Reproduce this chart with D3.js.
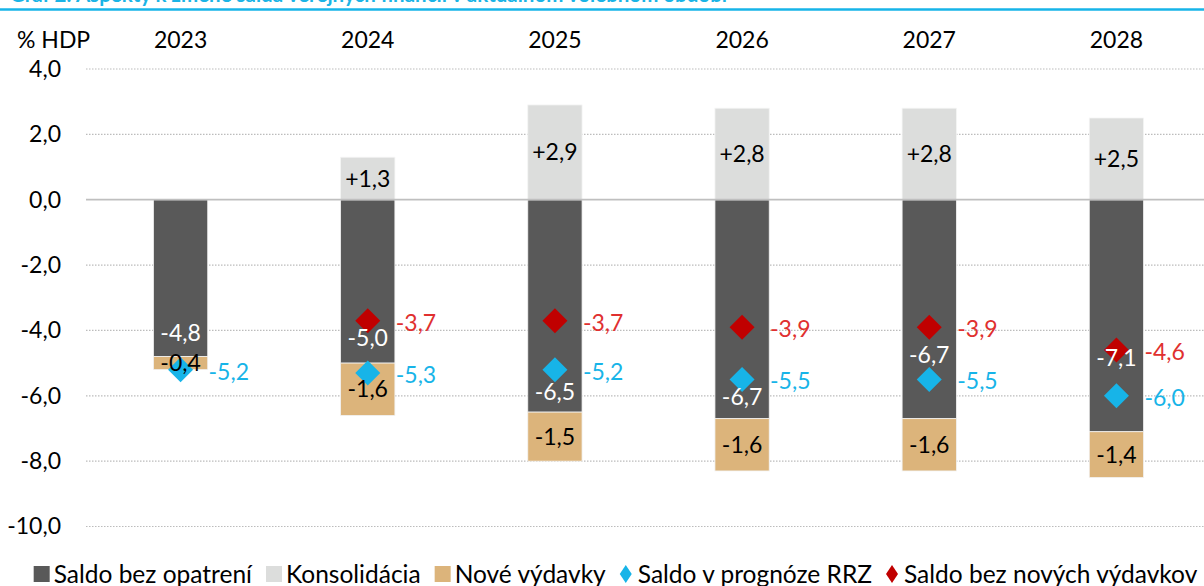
<!DOCTYPE html>
<html>
<head>
<meta charset="utf-8">
<script src="https://cdn.jsdelivr.net/npm/d3@7"></script>
<style>
  body { margin: 0; background: #fff; }
  svg { display: block; font-family: Lato, "Open Sans", sans-serif; }
</style>
</head>
<body>
<svg id="chart" width="1204" height="586"></svg>
<script>
// chart data (% HDP)
var years = ["2023", "2024", "2025", "2026", "2027", "2028"];
var saldoBezOpatreni = [-4.8, -5.0, -6.5, -6.7, -6.7, -7.1];
var konsolidacia = [null, 1.3, 2.9, 2.8, 2.8, 2.5];
var noveVydavky = [-0.4, -1.6, -1.5, -1.6, -1.6, -1.4];
var saldoRRZ = [-5.2, -5.3, -5.2, -5.5, -5.5, -6.0];
var saldoBezNovych = [null, -3.7, -3.7, -3.9, -3.9, -4.6];
var yTicks = [4, 2, 0, -2, -4, -6, -8, -10];
var legendLabels = ["Saldo bez opatrení", "Konsolidácia", "Nové výdavky", "Saldo v prognóze RRZ", "Saldo bez nových výdavkov"];
var titleText = "Graf 2: Aspekty k zmene salda verejných financií v aktuálnom volebnom období";

// colors
var cDark = "#595959", cLight = "#dcdddc", cTan = "#dcb47b",
    cBlue = "#17b4e8", cRed = "#c00000", cRedText = "#e0302f";

var fs = 23; // label font size

// vertical shift (px) of the dark bar labels from the bar end, as placed in the original
var darkLabelShift = [-24, -25, -20, -22, -64, -74];

var svg = d3.select("#chart");
var fmt = function(v) { return v.toFixed(1).replace(".", ","); };

var x = d3.scaleBand()
  .domain(years)
  .range([87, 1210])
  .paddingInner(0.71)
  .paddingOuter(0.355);

var y = d3.scaleLinear()
  .domain([-10, 4])
  .range([526.5, 69]);

var cx = d => x(d) + x.bandwidth() / 2;

// title (cut off at top) + blue rule
svg.append("text")
  .attr("x", 10).attr("y", 2)
  .attr("fill", "#1ab4e6")
  .attr("font-weight", "bold")
  .attr("font-size", 20)
  .attr("textLength", 717)
  .attr("lengthAdjust", "spacingAndGlyphs")
  .text(titleText);
svg.append("line")
  .attr("x1", 0).attr("x2", 1204)
  .attr("y1", 9.5).attr("y2", 9.5)
  .attr("stroke", "#17b4e8")
  .attr("stroke-width", 2.5);

// gridlines
svg.append("g").selectAll("line")
  .data(yTicks.filter(d => d !== 0))
  .enter().append("line")
  .attr("x1", 86).attr("x2", 1204)
  .attr("y1", d => y(d)).attr("y2", d => y(d))
  .attr("stroke", "#bcbcbc")
  .attr("stroke-width", 1.2)
  .attr("stroke-dasharray", "1.5,1.5");

// y axis labels
var yAxis = d3.axisLeft(y)
  .tickValues(yTicks)
  .tickFormat(fmt)
  .tickSize(0)
  .tickPadding(0);
var gy = svg.append("g")
  .attr("transform", "translate(61,0)")
  .call(yAxis);
gy.select(".domain").remove();
gy.selectAll("text")
  .attr("font-size", fs)
  .attr("font-family", "Lato, sans-serif")
  .attr("fill", "#000");

svg.append("text")
  .attr("x", 17).attr("y", 40)
  .attr("dy", "0.35em")
  .attr("font-size", fs)
  .text("% HDP");

// year labels on top
svg.append("g").selectAll("text")
  .data(years)
  .enter().append("text")
  .attr("x", cx)
  .attr("y", 40)
  .attr("dy", "0.35em")
  .attr("text-anchor", "middle")
  .attr("font-size", fs)
  .text(d => d);

// bars
var bars = svg.append("g");
// dark: saldo bez opatrení
bars.selectAll(".dark")
  .data(years)
  .enter().append("rect")
  .attr("class", "dark")
  .attr("x", d => x(d))
  .attr("width", x.bandwidth())
  .attr("y", y(0))
  .attr("height", (d, i) => y(saldoBezOpatreni[i]) - y(0))
  .attr("fill", cDark)
  .attr("stroke", "#f2f2f2").attr("stroke-width", 0.8);
// tan: nové výdavky, stacked below
bars.selectAll(".tan")
  .data(years)
  .enter().append("rect")
  .attr("class", "tan")
  .attr("x", d => x(d))
  .attr("width", x.bandwidth())
  .attr("y", (d, i) => y(saldoBezOpatreni[i]))
  .attr("height", (d, i) => y(saldoBezOpatreni[i] + noveVydavky[i]) - y(saldoBezOpatreni[i]))
  .attr("fill", cTan)
  .attr("stroke", "#f2f2f2").attr("stroke-width", 0.8);
// light: konsolidácia
bars.selectAll(".light")
  .data(years.filter((d, i) => konsolidacia[i] != null))
  .enter().append("rect")
  .attr("class", "light")
  .attr("x", d => x(d))
  .attr("width", x.bandwidth())
  .attr("y", d => y(konsolidacia[years.indexOf(d)]))
  .attr("height", d => y(0) - y(konsolidacia[years.indexOf(d)]))
  .attr("fill", cLight)
  .attr("stroke", "#f4f4f4").attr("stroke-width", 0.8);

// zero line
svg.append("line")
  .attr("x1", 86).attr("x2", 1204)
  .attr("y1", y(0)).attr("y2", y(0))
  .attr("stroke", "#bfbfbf")
  .attr("stroke-width", 1.8);

// diamonds + their labels
var diamond = "M0,-12.5L12.5,0L0,12.5L-12.5,0Z";
var pointLabels = svg.append("g").attr("font-size", fs);
function drawPoints(values, fill, textFill) {
  var idx = d3.range(years.length).filter(i => values[i] != null);
  svg.append("g").selectAll("path")
    .data(idx)
    .enter().append("path")
    .attr("d", diamond)
    .attr("transform", i => "translate(" + cx(years[i]) + "," + y(values[i]) + ")")
    .attr("fill", fill);
  pointLabels.selectAll(null)
    .data(idx)
    .enter().append("text")
    .attr("x", i => cx(years[i]) + 28)
    .attr("y", i => y(values[i]) + 2)
    .attr("dy", "0.35em")
    .attr("fill", textFill)
    .text(i => fmt(values[i]));
}
drawPoints(saldoRRZ, cBlue, cBlue);
drawPoints(saldoBezNovych, cRed, cRedText);

// bar labels, drawn over the diamonds like in the original
var labels = svg.append("g").attr("font-size", fs).attr("text-anchor", "middle");
labels.selectAll(".lightLab")
  .data(years.filter((d, i) => konsolidacia[i] != null))
  .enter().append("text")
  .attr("x", cx)
  .attr("y", d => (y(0) + y(konsolidacia[years.indexOf(d)])) / 2)
  .attr("dy", "0.35em")
  .attr("fill", "#000")
  .text(d => "+" + fmt(konsolidacia[years.indexOf(d)]));

labels.selectAll(".tanLab")
  .data(years)
  .enter().append("text")
  .attr("x", cx)
  .attr("y", (d, i) => (y(saldoBezOpatreni[i]) + y(saldoBezOpatreni[i] + noveVydavky[i])) / 2)
  .attr("dy", "0.35em")
  .attr("fill", "#000")
  .text((d, i) => fmt(noveVydavky[i]));

labels.selectAll(".darkLab")
  .data(years)
  .enter().append("text")
  .attr("x", cx)
  .attr("y", (d, i) => y(saldoBezOpatreni[i]) + darkLabelShift[i])
  .attr("dy", "0.35em")
  .attr("fill", "#fff")
  .text((d, i) => fmt(saldoBezOpatreni[i]));

// legend
var legendColors = [cDark, cLight, cTan, cBlue, cRed];
var legendShapes = ["sq", "sq", "sq", "dia", "dia"];
var legend = svg.append("g").attr("class", "legend");
var lx = 0;
legendLabels.forEach(function(lab, i) {
  var item = legend.append("g").attr("transform", "translate(" + lx + ",0)");
  var tx;
  if (legendShapes[i] === "sq") {
    item.append("rect")
      .attr("x", 0).attr("y", -8)
      .attr("width", 16).attr("height", 16)
      .attr("fill", legendColors[i]);
    tx = 20;
  } else {
    item.append("path")
      .attr("d", "M6,-9L12,0L6,9L0,0Z")
      .attr("fill", legendColors[i]);
    tx = 18;
  }
  var t = item.append("text")
    .attr("x", tx).attr("y", 8.5)
    .attr("font-size", 24.5)
    .text(lab);
  lx += tx + t.node().getComputedTextLength() + 14;
});
lx -= 14;
legend.attr("transform", "translate(" + (615.5 - lx / 2) + ",574)");
</script>
</body>
</html>
